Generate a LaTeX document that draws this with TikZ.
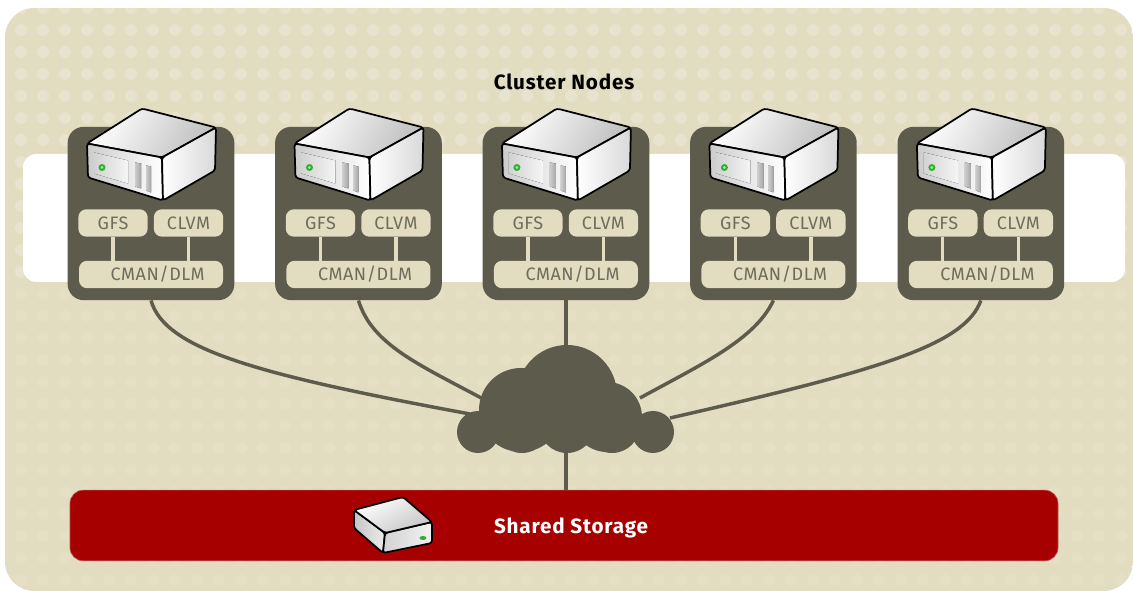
\documentclass[tikz,border=0pt]{standalone}
\usepackage{fontspec}
\setmainfont{Fira Sans}
\usepackage{tikz}
\usetikzlibrary{positioning,shapes.misc}
\definecolor{sand}{HTML}{E2DCC0}
\definecolor{dotup}{HTML}{E8E3CE}
\definecolor{dotlow}{HTML}{E4DFC5}
\definecolor{olive}{HTML}{5C5B4C}
\definecolor{pilltext}{HTML}{6E6D5C}
\definecolor{redbar}{HTML}{A60000}
\tikzstyle{panel} = [fill=olive, rounded corners=12pt, minimum width=125pt, minimum height=130pt]
\tikzstyle{pill} = [fill=sand, rounded corners=6pt, text=pilltext, font=\fontsize{13.5}{14}\selectfont\addfontfeature{LetterSpace=3}, minimum height=20.5pt, inner sep=0pt]
\tikzstyle{link} = [draw=olive, line width=2.6pt]
\tikzstyle{inlink} = [draw=sand, line width=2.4pt]
\tikzstyle{title} = [font=\fontsize{15.5}{17}\selectfont\bfseries\addfontfeature{LetterSpace=4}]
\tikzstyle{icon} = [black, line width=1.3pt, rounded corners=2pt]
\tikzset{
  server/.pic={
    \draw[icon, left color=white, right color=gray!50, shading angle=60]
      (-64,-70) -- (-9,-105) -- (65,-86) -- (11,-56) -- cycle;
    \draw[icon, left color=gray!40, right color=white]
      (-64,-70) -- (11,-56) -- (12,-13) -- (-63,-36) -- cycle;
    \draw[icon, left color=white, right color=gray!30]
      (11,-56) -- (65,-86) -- (64,-43) -- (12,-13) -- cycle;
    \fill[left color=gray!35, right color=gray!8] (-57,-61) -- (-23,-53) -- (-23,-30) -- (-57,-40) -- cycle;
    \fill[left color=gray!40, right color=gray!70] (-16,-51) -- (-10,-50) -- (-10,-25) -- (-16,-27) -- cycle;
    \fill[left color=gray!40, right color=gray!70] (-5,-48) -- (0,-47) -- (0,-21) -- (-5,-23) -- cycle;
    \fill[green!60!black!80] (-49,-46) circle (3.5);
    \fill[green!50!white] (-49,-46) circle (1.5);
  },
  drive/.pic={
    \draw[icon, left color=gray!45, right color=gray!15]
      (-49,-17) -- (-18,6) -- (-20,26) -- (-49,1) -- cycle;
    \draw[icon, left color=gray!35, right color=gray!10]
      (-18,6) -- (29,-5) -- (29,16) -- (-20,26) -- cycle;
    \draw[icon, left color=white, right color=gray!45, shading angle=30]
      (-49,-17) -- (0,-30) -- (29,-5) -- (-18,6) -- cycle;
    \fill[green!60!black!80] (20,11) ellipse (3.5 and 2);
  }
}
\begin{document}
\begin{tikzpicture}[x=0.75pt,y=-0.75pt,node distance=155.6pt]
    \useasboundingbox (0,0) rectangle (1133,591);
    \begin{scope}
    \clip[rounded corners=22pt] (5,8) rectangle (1133,591);
    \fill[sand] (5,8) rectangle (1133,591);
    \foreach \y in {8,30,...,272}
      \foreach \x in {21,43,...,1121}
        \fill[dotup] (\x,\y) circle (6);
    \foreach \y in {294,316,...,580}
      \foreach \x in {21,43,...,1121}
        \fill[dotlow] (\x,\y) circle (6);
    \end{scope}
    \fill[white, rounded corners=10pt] (23,154) rectangle (1125,282);
    \node[title] (clusterlabel) at (564,82) {Cluster Nodes};

    \node[panel] (node1) at (151,213.5) {};
    \node[panel, right of=node1] (node2) {};
    \node[panel, right of=node2] (node3) {};
    \node[panel, right of=node3] (node4) {};
    \node[panel, right of=node4] (node5) {};
    \foreach \i in {1,...,5} {
      \node[pill, minimum width=52pt] (gfs\i) at ([shift={(-38,9.5)}]node\i.center) {GFS};
      \node[pill, minimum width=52pt] (clvm\i) at ([shift={(37.5,9.5)}]node\i.center) {CLVM};
      \node[pill, minimum width=108pt] (cman\i) at ([shift={(0,61)}]node\i.center) {\hspace*{10pt}CMAN/DLM};
      \draw[inlink] (gfs\i.south) -- (gfs\i.south |- cman\i.north);
      \draw[inlink] (clvm\i.south) -- (clvm\i.south |- cman\i.north);
      \pic at (node\i.center) {server};
    }

    \node[fill=redbar, draw=redbar!70!white, line width=.5pt, rounded corners=10pt, minimum width=741pt, minimum height=53pt] (storage) at (564,525.5) {};
    \node[title, text=white] (storagelabel) at (571,528) {Shared Storage};
    \pic at (403,527) {drive};

    \coordinate (cloud) at (566,418);
    \coordinate (cloudw) at (470,414);
    \coordinate (cloudnw) at (485,400);
    \coordinate (cloudne) at (640,398);
    \coordinate (cloude) at (670,418);
    \draw[link] (node1.south) .. controls (165,350) and (260,375) .. (cloudw);
    \draw[link] (node2.south) .. controls (372,345) and (420,365) .. (cloudnw);
    \draw[link] (node3.south) -- (node3.south |- cloud);
    \draw[link] (node4.south) .. controls (755,340) and (700,365) .. (cloudne);
    \draw[link] (node5.south) .. controls (965,345) and (880,370) .. (cloude);
    \draw[link] (cloud) -- (storage.north -| cloud);

    \fill[olive] (478,432) circle (21) (653,432) circle (21)
      (567,395) circle (50) (521,410) circle (42) (607,417) circle (35)
      (522,425) circle (28) (567,425) circle (28) (612,425) circle (28);
\end{tikzpicture}
\end{document}
